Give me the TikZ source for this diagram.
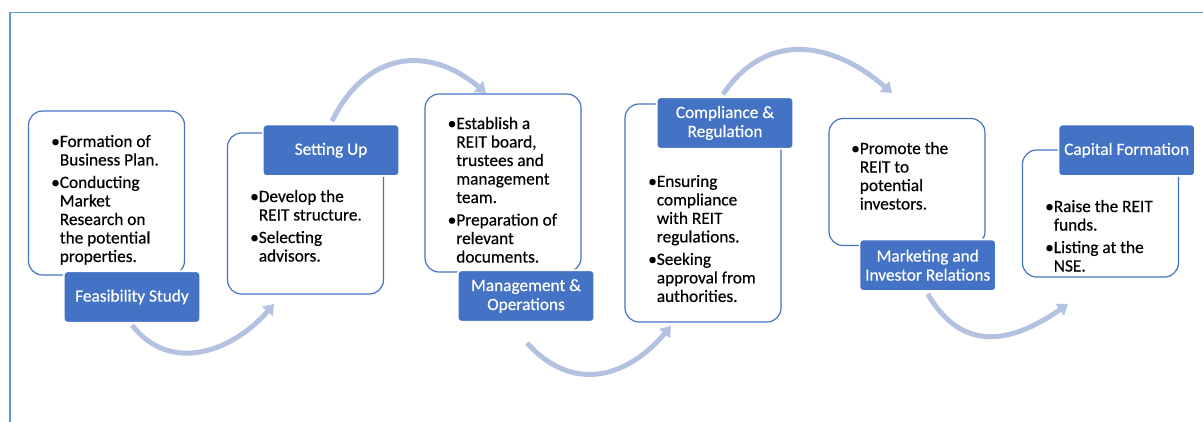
\documentclass[tikz,border=0pt]{standalone}
\usepackage{fontspec}
\setmainfont{Carlito}
\newfontfamily\stagefont{Carlito}[FakeBold=0.4]
\usetikzlibrary{arrows.meta}

\definecolor{accent}{HTML}{4472C4}
\definecolor{frameblue}{HTML}{5B9BD5}
\definecolor{flowarc}{HTML}{B4C2E2}

% indent that lines up continuation lines with the text after a bullet
\newcommand{\hg}{\phantom{\textbullet}}

\tikzset{
  stagebox/.style={draw=accent, line width=1.2pt, rounded corners=14pt,
    minimum width=156pt, inner sep=0pt, fill=white},
  stagelabel/.style={fill=accent, draw=white, line width=1.8pt, rounded corners=3.5pt,
    minimum width=136.5pt, minimum height=51.5pt, inner sep=0pt,
    text=white, align=center, font=\stagefont\fontsize{17.3}{19}\selectfont},
  bullets/.style={anchor=north west, inner sep=0pt, align=left,
    font=\stagefont\fontsize{17.3}{18.5}\selectfont},
  flow/.style={draw=flowarc, line width=5pt,
    -{Triangle[width=14pt,length=10pt]}}
}

\begin{document}
\begin{tikzpicture}[x=1pt,y=1pt]
\useasboundingbox (0,0) rectangle (1203,-421);

% outer frame (left and top edges)
\draw[frameblue, line width=1.8pt] (10,-425) -- (10,-12.5) -- (1210,-12.5);

% stage boxes
\node[stagebox, minimum height=164pt] (b1) at (106.5,-193) {};
\node[stagebox, minimum height=161pt] (b2) at (305.5,-213.5) {};
\node[stagebox, minimum height=178pt] (b3) at (503,-183) {};
\node[stagebox, minimum height=218pt] (b4) at (703,-213) {};
\node[stagebox, minimum height=127pt] (b5) at (907,-182) {};
\node[stagebox, minimum height=127pt] (b6) at (1100.5,-213.5) {};

% box contents
\node[bullets] (t1) at (51,-134.8) {\textbullet Formation of\\\hg Business Plan.\\[4pt]
  \textbullet Conducting\\\hg Market\\\hg Research on\\\hg the potential\\\hg properties.};
\node[bullets] (t2) at (250,-189.8) {\textbullet Develop the\\\hg REIT structure.\\[4pt]
  \textbullet Selecting\\\hg advisors.};
\node[bullets] (t3) at (447.5,-116.8) {\textbullet Establish a\\\hg REIT board,\\\hg trustees and\\\hg management\\\hg team.\\[4pt]
  \textbullet Preparation of\\\hg relevant\\\hg documents.};
\node[bullets] (t4) at (648,-174.8) {\textbullet Ensuring\\\hg compliance\\\hg with REIT\\\hg regulations.\\[4pt]
  \textbullet Seeking\\\hg approval from\\\hg authorities.};
\node[bullets] (t5) at (851,-141.8) {\textbullet Promote the\\\hg REIT to\\\hg potential\\\hg investors.};
\node[bullets] (t6) at (1045,-199.8) {\textbullet Raise the REIT\\\hg funds.\\[4pt]
  \textbullet Listing at the\\\hg NSE.};

% stage titles
\node[stagelabel] (l1) at (132,-297) {Feasibility Study};
\node[stagelabel] (l2) at (331,-150.3) {Setting Up};
\node[stagelabel] (l3) at (526,-296) {Management \&\\Operations};
\node[stagelabel] (l4) at (725,-123) {Compliance \&\\Regulation};
\node[stagelabel] (l5) at (927.7,-265.2) {Marketing and\\Investor Relations};
\node[stagelabel] (l6) at (1126.7,-150.3) {Capital Formation};

% arrow end points
\coordinate (e1) at (274,-304);
\coordinate (e2) at (486,-93);
\coordinate (s3) at (527,-343);
\coordinate (e3) at (671,-326);
\coordinate (e4) at (892,-93);
\coordinate (e5) at (1068,-304);

% flow arrows between stages
\draw[flow] ([yshift=-1.5pt]l1.south) to[out=-52,in=-131,looseness=1.12] (e1);
\draw[flow] ([xshift=1pt,yshift=2.5pt]l2.north) to[out=64,in=140,looseness=1.25] (e2);
\draw[flow] (s3) to[out=-48,in=-130,looseness=1.2] (e3);
\draw[flow] ([xshift=-2pt,yshift=2pt]l4.north) to[out=56,in=139,looseness=1.18] (e4);
\draw[flow] ([yshift=-2pt]l5.south) to[out=-60,in=-145,looseness=1.25] (e5);
\end{tikzpicture}
\end{document}
